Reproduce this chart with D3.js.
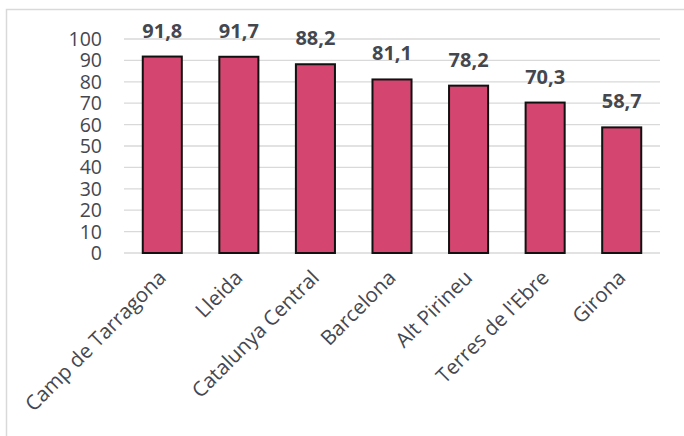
<!DOCTYPE html>
<html><head><meta charset="utf-8">
<script src="https://cdn.jsdelivr.net/npm/d3@7"></script>
<style>body{margin:0;background:#fff}svg{display:block}</style>
</head><body>
<script>
const categories = ["Camp de Tarragona","Lleida","Catalunya Central","Barcelona","Alt Pirineu","Terres de l'Ebre","Girona"];
const values = [91.8,91.7,88.2,81.1,78.2,70.3,58.7];
const valueLabels = ["91,8","91,7","88,2","81,1","78,2","70,3","58,7"];
const yTicks = [0,10,20,30,40,50,60,70,80,90,100];

(function(){
const W=684,H=436;
const svg=d3.select("body").append("svg").attr("width",W).attr("height",H);
svg.append("rect").attr("x",6.5).attr("y",9.5).attr("width",700).attr("height",500)
  .attr("fill","none").attr("stroke","#d9d9d9").attr("stroke-width",1.5);

const pL=124,pR=660,pT=39,pB=253;
const x=d3.scaleBand().domain(categories).range([pL,pR]).paddingInner(0.49).paddingOuter(0.245);
const y=d3.scaleLinear().domain([0,100]).range([pB,pT]);
const font="'Open Sans', 'Noto Sans', sans-serif";
const txt="#45474f";

svg.append("g").selectAll("line").data(yTicks).join("line")
  .attr("x1",pL).attr("x2",pR).attr("y1",d=>y(d)).attr("y2",d=>y(d))
  .attr("stroke","#d9d9d9").attr("stroke-width",1.3);

svg.append("g").selectAll("text").data(yTicks).join("text")
  .attr("x",102).attr("y",d=>y(d)).attr("dy","0.36em").attr("text-anchor","end")
  .attr("font-family",font).attr("font-size",19.5).attr("fill",txt).text(d=>d);

svg.append("g").selectAll("rect").data(values).join("rect")
  .attr("x",(d,i)=>x(categories[i])).attr("width",x.bandwidth())
  .attr("y",d=>y(d)).attr("height",d=>y(0)-y(d))
  .attr("fill","#d4466f").attr("stroke","#111").attr("stroke-width",2);

svg.append("g").selectAll("text").data(values).join("text")
  .attr("x",(d,i)=>x(categories[i])+x.bandwidth()/2).attr("y",d=>y(d)-19)
  .attr("text-anchor","middle").attr("font-family",font).attr("font-weight","bold")
  .attr("font-size",20).attr("fill",txt).text((d,i)=>valueLabels[i]);

svg.append("g").selectAll("text").data(categories).join("text")
  .attr("transform",d=>`translate(${x(d)+x.bandwidth()/2+5},${279}) rotate(-45)`)
  .attr("text-anchor","end").attr("font-family",font).attr("font-size",20.5)
  .attr("fill",txt).text(d=>d);
})();
</script>
</body></html>
